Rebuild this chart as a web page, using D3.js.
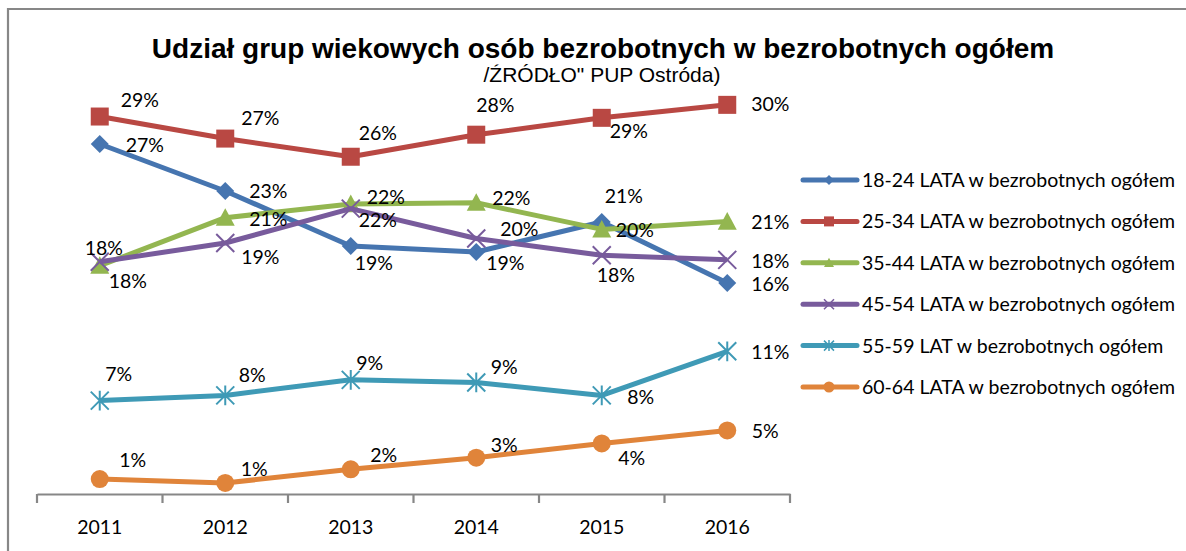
<!DOCTYPE html>
<html><head><meta charset="utf-8">
<script src="https://cdn.jsdelivr.net/npm/d3@7"></script>
<style>
body{margin:0;background:#fff;}
svg{display:block;}
</style>
</head><body>
<svg id="chart" width="1186" height="551"></svg>
<script>
// ---------------- DATA ----------------
const years = ["2011","2012","2013","2014","2015","2016"];
const seriesNames = [
  "18-24 LATA w bezrobotnych ogółem",
  "25-34 LATA w bezrobotnych ogółem",
  "35-44 LATA w bezrobotnych ogółem",
  "45-54 LATA w bezrobotnych ogółem",
  "55-59 LAT w bezrobotnych ogółem",
  "60-64 LATA w bezrobotnych ogółem"
];
const s18_24 = [26.98, 23.36, 19.12, 18.66, 20.97, 16.27];
const s25_34 = [29.1, 27.4, 26.0, 27.7, 29.0, 30.0];
const s35_44 = [17.6, 21.3, 22.35, 22.45, 20.4, 21.0];
const s45_54 = [17.9, 19.35, 22.0, 19.7, 18.4, 18.05];
const s55_59 = [7.2, 7.6, 8.8, 8.6, 7.6, 11.0];
const s60_64 = [1.15, 0.85, 1.9, 2.8, 3.9, 4.9];
const titleText = "Udział grup wiekowych osób bezrobotnych w bezrobotnych ogółem";
const subtitleText = "/ŹRÓDŁO\" PUP Ostróda)";

// ---------------- LAYOUT / STYLE ----------------
const seriesValues = [s18_24, s25_34, s35_44, s45_54, s55_59, s60_64];
const colors = ["#4675B0", "#B94843", "#93B650", "#785B9C", "#3F9AB6", "#E0843A"];
const markerTypes = ["diamond", "square", "triangle", "x", "star", "circle"];
// label offsets (text centre relative to marker centre)
const labelOffsets = [
  [[45,1],[43,0],[23,17],[29,11],[22,-26],[43,1]],
  [[40,-17],[35,-21],[27,-24],[19,-30],[27,13],[43,-1]],
  [[28,15],[43,1],[35,-7],[35,-5],[33,1],[43,0]],
  [[4,-14],[35,14],[27,11],[43,-9],[14,20],[43,1]],
  [[19,-27],[27,-20],[19,-17],[28,-15],[39,2],[43,1]],
  [[33,-19],[29,-14],[33,-14],[28,-13],[30,15],[38,1]]
];
const FONT = "Lato, 'Open Sans', sans-serif";
const FS = 19.5;

const svg = d3.select("#chart");

// frame
svg.append("path")
  .attr("d", "M8,551 L8,9 L1186,9")
  .attr("fill", "none").attr("stroke", "#878787").attr("stroke-width", 2.2);

// title
svg.append("text").attr("x", 603).attr("y", 58)
  .attr("text-anchor", "middle")
  .style("font-family", "'Liberation Sans', Arial, sans-serif")
  .style("font-weight", "bold").style("font-size", "28px")
  .text(titleText);
svg.append("text").attr("x", 602).attr("y", 82)
  .attr("text-anchor", "middle")
  .style("font-family", "'Liberation Sans', Arial, sans-serif")
  .style("font-size", "21px")
  .text(subtitleText);

// scales
const x = d3.scaleBand().domain(years).range([37, 790]);
const y = d3.scaleLinear().domain([0, 35]).range([494, 40]);
const cx = d => x(d) + x.bandwidth() / 2;

// axis
const axisG = svg.append("g").attr("transform", `translate(0,${y(0)})`)
  .call(d3.axisBottom(x).tickSizeInner(0).tickSizeOuter(0).tickPadding(26));
axisG.select(".domain").attr("stroke", "#878787").attr("stroke-width", 2.2);
axisG.selectAll("text").style("font-family", FONT).style("font-size", FS + "px")
  .style("font-weight", "normal").attr("fill", "#000");
const bounds = years.map(d => x(d)).concat([x.range()[1]]);
axisG.selectAll(".bt").data(bounds).enter().append("line")
  .attr("x1", d => d).attr("x2", d => d).attr("y1", 0).attr("y2", 9)
  .attr("stroke", "#878787").attr("stroke-width", 2.2);

// marker drawing
function drawMarker(g, type, color, s) {
  if (type === "diamond") {
    g.append("path").attr("d", `M0,${-s}L${s},0L0,${s}L${-s},0Z`).attr("fill", color);
  } else if (type === "square") {
    g.append("rect").attr("x", -s).attr("y", -s).attr("width", 2*s).attr("height", 2*s).attr("fill", color);
  } else if (type === "triangle") {
    g.append("path").attr("d", `M0,${-s}L${s},${s*0.85}L${-s},${s*0.85}Z`).attr("fill", color);
  } else if (type === "x") {
    g.append("path").attr("d", `M${-s},${-s}L${s},${s}M${s},${-s}L${-s},${s}`)
      .attr("stroke", color).attr("stroke-width", Math.max(1.5, s/4.5)).attr("fill", "none");
  } else if (type === "star") {
    g.append("path").attr("d", `M${-s},${-s}L${s},${s}M${s},${-s}L${-s},${s}M0,${-s*1.1}L0,${s*1.1}`)
      .attr("stroke", color).attr("stroke-width", Math.max(1.5, s/4.5)).attr("fill", "none");
  } else if (type === "circle") {
    g.append("circle").attr("r", s).attr("fill", color);
  }
}

const line = d3.line().x((v, i) => cx(years[i])).y(v => y(v));
const markerSize = [9, 9, 9.5, 9, 9, 9];

seriesValues.forEach((vals, si) => {
  const g = svg.append("g");
  g.append("path").attr("d", line(vals)).attr("fill", "none")
    .attr("stroke", colors[si]).attr("stroke-width", 5).attr("stroke-linejoin", "round");
  vals.forEach((v, i) => {
    const mg = g.append("g").attr("transform", `translate(${cx(years[i])},${y(v)})`);
    drawMarker(mg, markerTypes[si], colors[si], markerSize[si]);
  });
});

// data labels
seriesValues.forEach((vals, si) => {
  svg.append("g").selectAll("text").data(vals).enter().append("text")
    .attr("x", (v, i) => cx(years[i]) + labelOffsets[si][i][0])
    .attr("y", (v, i) => y(v) + labelOffsets[si][i][1])
    .attr("dy", "0.36em")
    .attr("text-anchor", "middle")
    .style("font-family", FONT).style("font-size", FS + "px").style("font-weight", "normal")
    .text(v => Math.round(v) + "%");
});

// legend
const legend = svg.append("g");
seriesNames.forEach((name, i) => {
  const ly = 180 + i * 41.4;
  const g = legend.append("g").attr("transform", `translate(0,${ly})`);
  g.append("line").attr("x1", 803).attr("x2", 857).attr("y1", 0).attr("y2", 0)
    .attr("stroke", colors[i]).attr("stroke-width", 5).attr("stroke-linecap", "round");
  const mg = g.append("g").attr("transform", "translate(829,0)");
  drawMarker(mg, markerTypes[i], colors[i], i === 5 ? 5.5 : 5);
  g.append("text").attr("x", 862).attr("y", 0).attr("dy", "0.36em")
    .style("font-family", FONT).style("font-size", FS + "px").style("font-weight", "normal")
    .text(name);
});
</script>
</body></html>
